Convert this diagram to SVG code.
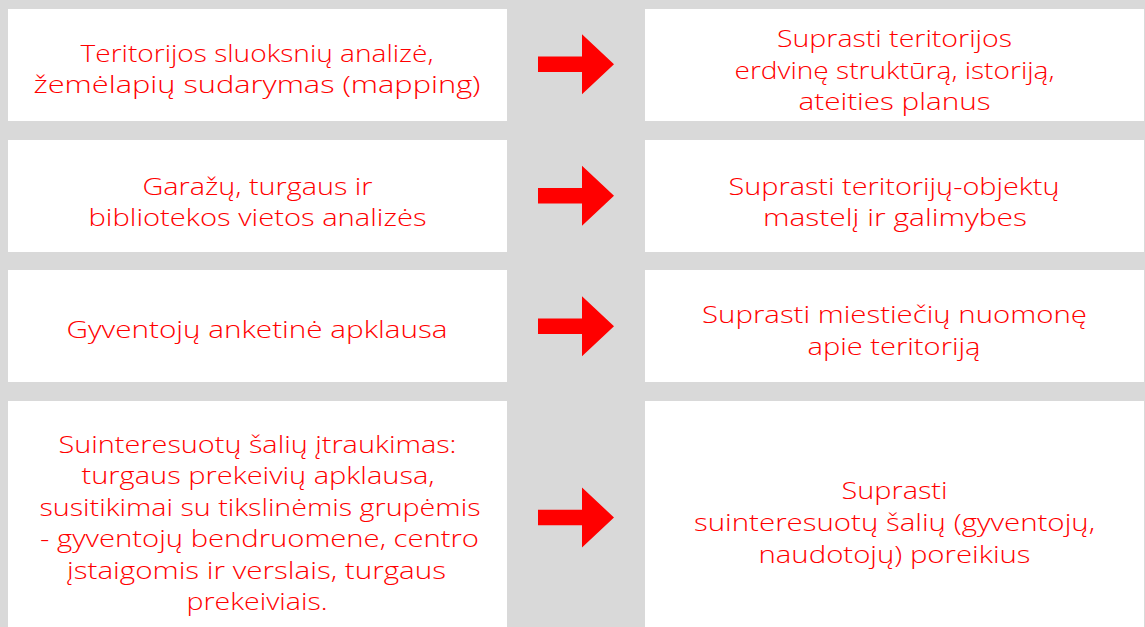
<svg xmlns="http://www.w3.org/2000/svg" xmlns:xlink="http://www.w3.org/1999/xlink" width="1145" height="627" viewBox="0 0 1145 627">
<style>
.box{fill:#ffffff;}
.t{font-family:"Open Sans","Liberation Sans",sans-serif;font-weight:300;font-size:24px;fill:#ff0000;text-anchor:middle;}
.arr{fill:#ff0000;}
</style>
<defs>
<path id="arrow" d="M0,-7.8 H44 V-30 L76,0 L44,30 V7.8 H0 Z"/>
</defs>
<rect x="0" y="0" width="1145" height="627" fill="#d9d9d9"/>
<g id="n1l">
<rect class="box" x="8" y="9" width="499" height="112"/>
<text class="t" x="257" y="62" textLength="353" lengthAdjust="spacingAndGlyphs">Teritorijos sluoksnių analizė,</text>
<text class="t" x="257" y="93" textLength="447" lengthAdjust="spacingAndGlyphs">žemėlapių sudarymas (mapping)</text>
</g>
<g id="n1r">
<rect class="box" x="645" y="9" width="499" height="112"/>
<text class="t" x="894.5" y="47" textLength="235" lengthAdjust="spacingAndGlyphs">Suprasti teritorijos</text>
<text class="t" x="894.5" y="78.5" textLength="320" lengthAdjust="spacingAndGlyphs">erdvinę struktūrą, istoriją,</text>
<text class="t" x="894.5" y="110" textLength="192" lengthAdjust="spacingAndGlyphs">ateities planus</text>
</g>
<g id="n2l">
<rect class="box" x="8" y="140" width="499" height="112"/>
<text class="t" x="257.5" y="195" textLength="230" lengthAdjust="spacingAndGlyphs">Garažų, turgaus ir</text>
<text class="t" x="257.5" y="226" textLength="338" lengthAdjust="spacingAndGlyphs">bibliotekos vietos analizės</text>
</g>
<g id="n2r">
<rect class="box" x="645" y="140" width="499" height="112"/>
<text class="t" x="894" y="195" textLength="331" lengthAdjust="spacingAndGlyphs">Suprasti teritorijų-objektų</text>
<text class="t" x="895" y="226" textLength="264" lengthAdjust="spacingAndGlyphs">mastelį ir galimybes</text>
</g>
<g id="n3l">
<rect class="box" x="8" y="270" width="499" height="112"/>
<text class="t" x="257" y="338" textLength="381" lengthAdjust="spacingAndGlyphs">Gyventojų anketinė apklausa</text>
</g>
<g id="n3r">
<rect class="box" x="645" y="270" width="499" height="112"/>
<text class="t" x="894.5" y="323" textLength="385" lengthAdjust="spacingAndGlyphs">Suprasti miestiečių nuomonę</text>
<text class="t" x="894" y="355" textLength="173" lengthAdjust="spacingAndGlyphs">apie teritoriją</text>
</g>
<g id="n4l">
<rect class="box" x="8" y="401" width="499" height="226"/>
<text class="t" x="257.5" y="452.5" textLength="398" lengthAdjust="spacingAndGlyphs">Suinteresuotų šalių įtraukimas:</text>
<text class="t" x="258" y="484" textLength="353" lengthAdjust="spacingAndGlyphs">turgaus prekeivių apklausa,</text>
<text class="t" x="260" y="515.5" textLength="441" lengthAdjust="spacingAndGlyphs">susitikimai su tikslinėmis grupėmis</text>
<text class="t" x="259.5" y="547" textLength="439" lengthAdjust="spacingAndGlyphs">- gyventojų bendruomene, centro</text>
<text class="t" x="256.5" y="578.5" textLength="379" lengthAdjust="spacingAndGlyphs">įstaigomis ir verslais, turgaus</text>
<text class="t" x="257" y="610" textLength="141" lengthAdjust="spacingAndGlyphs">prekeiviais.</text>
</g>
<g id="n4r">
<rect class="box" x="645" y="401" width="499" height="226"/>
<text class="t" x="894.5" y="499" textLength="106" lengthAdjust="spacingAndGlyphs">Suprasti</text>
<text class="t" x="894.5" y="531" textLength="401" lengthAdjust="spacingAndGlyphs">suinteresuotų šalių (gyventojų,</text>
<text class="t" x="894.5" y="562.5" textLength="272" lengthAdjust="spacingAndGlyphs">naudotojų) poreikius</text>
</g>
<g id="connectors">
<use class="arr" xlink:href="#arrow" href="#arrow" transform="translate(538,64.2)"/>
<use class="arr" xlink:href="#arrow" href="#arrow" transform="translate(538,195.7)"/>
<use class="arr" xlink:href="#arrow" href="#arrow" transform="translate(538,326.3)"/>
<use class="arr" xlink:href="#arrow" href="#arrow" transform="translate(538,517.5)"/>
</g>
</svg>
